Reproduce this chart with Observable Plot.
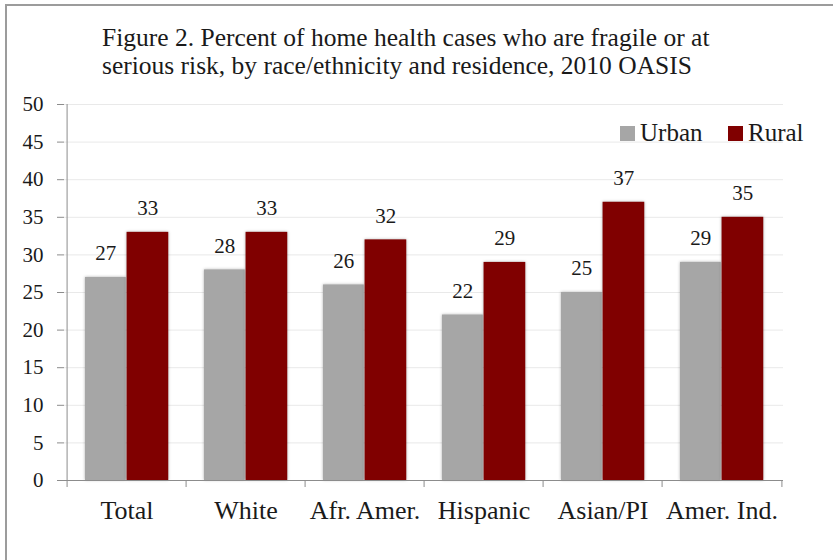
<!DOCTYPE html>
<html>
<head>
<meta charset="utf-8">
<script src="https://cdn.jsdelivr.net/npm/d3@7"></script>
<script src="https://cdn.jsdelivr.net/npm/@observablehq/plot@0.6"></script>
<style>
  html, body { margin: 0; padding: 0; background: #fff; overflow: hidden; }
  #wrap { position: relative; width: 833px; height: 560px; overflow: hidden;
          font-family: "Liberation Serif", "Times New Roman", serif; color: #1a1a1a; }
  #border { position: absolute; left: 5px; top: 4px; width: 900px; height: 700px;
            border: 2px solid #9c9c9c; box-sizing: border-box; }
  #title { position: absolute; left: 102px; top: 24px; font-size: 25.5px; line-height: 28px;
           white-space: nowrap; }
  #chart { position: absolute; left: 0; top: 0; }
  .leg { position: absolute; font-size: 25px; line-height: 25px; white-space: nowrap; }
  .sw { position: absolute; width: 15px; height: 15px; }
  g[aria-label="bar"] { filter: drop-shadow(0px 0px 1.5px rgba(0,0,0,0.3)); }
</style>
</head>
<body>
<div id="wrap">
  <div id="border"></div>
  <div id="chart"></div>
  <div id="title"></div>
  <div id="legend"></div>
</div>
<script>
// ---- data ----
const categories = ["Total", "White", "Afr. Amer.", "Hispanic", "Asian/PI", "Amer. Ind."];
const urban = [27, 28, 26, 22, 25, 29];
const rural = [33, 33, 32, 29, 37, 35];
const yTicks = [0, 5, 10, 15, 20, 25, 30, 35, 40, 45, 50];
const seriesNames = ["Urban", "Rural"];
const seriesColors = ["#a6a6a6", "#800000"];
const titleLines = [
  "Figure 2. Percent of home health cases who are fragile or at",
  "serious risk, by race/ethnicity and residence, 2010 OASIS"
];

// ---- layout ----
const W = 833, H = 560, mL = 64, mR = 50, mT = 104, mB = 80;
const step = (W - mL - mR) / categories.length;
const urbanRows = categories.map((c, i) => ({category: c, value: urban[i]}));
const ruralRows = categories.map((c, i) => ({category: c, value: rural[i]}));
const axisGray = "#8c8c8c";
const serif = "Liberation Serif";

const chart = Plot.plot({
  width: W, height: H,
  marginLeft: mL, marginRight: mR, marginTop: mT, marginBottom: mB,
  style: {background: "transparent", color: "#1a1a1a"},
  x: {domain: categories, padding: 0, label: null},
  y: {domain: [0, 50], label: null},
  marks: [
    Plot.gridY(yTicks, {stroke: "#e9e9e9", strokeOpacity: 1}),
    Plot.barY(urbanRows, {x: "category", y: "value", fill: seriesColors[0],
      insetLeft: step * 0.15, insetRight: step * 0.503}),
    Plot.barY(ruralRows, {x: "category", y: "value", fill: seriesColors[1],
      insetLeft: step * 0.497, insetRight: step * 0.148}),
    Plot.ruleY([0], {stroke: axisGray}),
    Plot.ruleX(categories, {x: d => d, y1: (d, i) => i === 0 ? 50 : 0, y2: 0,
      insetBottom: -7, dx: -step / 2, stroke: axisGray}),
    Plot.ruleX([categories[categories.length - 1]], {x: d => d, y1: 0, y2: 0,
      insetBottom: -7, dx: step / 2, stroke: axisGray}),
    Plot.axisY(yTicks, {tickSize: 7, tickPadding: 14, fontSize: 21, stroke: axisGray,
      fill: "#1a1a1a", fontFamily: serif, label: null}),
    Plot.axisX({tickSize: 0, tickPadding: 20, fontSize: 26, fill: "#1a1a1a", fontFamily: serif, label: null}),
    Plot.text(urbanRows, {x: "category", y: "value", text: d => String(d.value),
      dx: -step * 0.177, dy: -24, fontSize: 21, fontFamily: serif, fill: "#1a1a1a"}),
    Plot.text(ruralRows, {x: "category", y: "value", text: d => String(d.value),
      dx: step * 0.174, dy: -24, fontSize: 21, fontFamily: serif, fill: "#1a1a1a"})
  ]
});
document.getElementById("chart").appendChild(chart);

// ---- title ----
document.getElementById("title").innerHTML = titleLines.map(t => `<div>${t}</div>`).join("");

// ---- legend ----
const legend = document.getElementById("legend");
const legX = [620, 728];
seriesNames.forEach((name, i) => {
  const sw = document.createElement("div");
  sw.className = "sw";
  sw.style.left = legX[i] + "px";
  sw.style.top = "126px";
  sw.style.background = seriesColors[i];
  legend.appendChild(sw);
  const lab = document.createElement("div");
  lab.className = "leg";
  lab.style.left = (legX[i] + 20) + "px";
  lab.style.top = "120px";
  lab.textContent = name;
  legend.appendChild(lab);
});
</script>
</body>
</html>
